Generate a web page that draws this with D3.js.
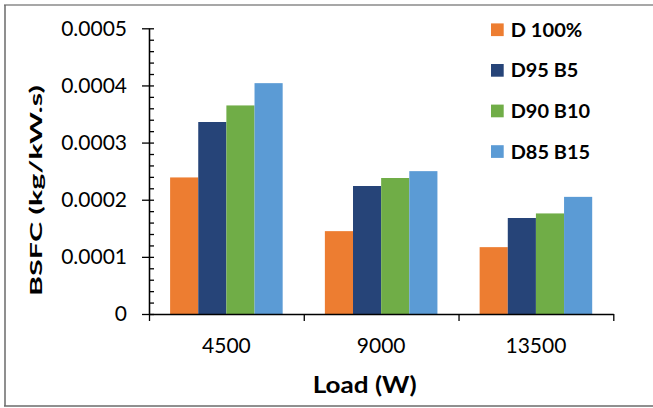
<!DOCTYPE html>
<html>
<head>
<meta charset="utf-8">
<script src="https://cdn.jsdelivr.net/npm/d3@7"></script>
<style>
  html, body { margin: 0; padding: 0; background: #fff; }
  svg { display: block; font-family: Lato, "Open Sans", sans-serif; }
</style>
</head>
<body>
<svg id="chart" width="653" height="408"></svg>
<script>
// Brake specific fuel consumption by load and fuel blend
const loads = ["4500", "9000", "13500"];
const blends = ["D 100%", "D95 B5", "D90 B10", "D85 B15"];
const colors = ["#ED7D31", "#264478", "#70AD47", "#5B9BD5"];
const d100   = [0.000239, 0.000145, 0.000117];
const d95b5  = [0.000336, 0.000224, 0.000168];
const d90b10 = [0.000365, 0.000238, 0.000176];
const d85b15 = [0.000404, 0.000250, 0.000205];
const yTicks = [0, 0.0001, 0.0002, 0.0003, 0.0004, 0.0005];
const yTickLabels = ["0", "0.0001", "0.0002", "0.0003", "0.0004", "0.0005"];

const seriesValues = [d100, d95b5, d90b10, d85b15];
const legendWidths = [71.6, 67.6, 79.3, 79.3];

const svg = d3.select("#chart");

// outer frame
svg.append("line").attr("x1", 4).attr("x2", 653).attr("y1", 5).attr("y2", 5)
  .attr("stroke", "#8a8a8a").attr("stroke-width", 1.5);
svg.append("line").attr("x1", 5).attr("x2", 5).attr("y1", 5).attr("y2", 406)
  .attr("stroke", "#6a6a6a").attr("stroke-width", 1.5);
svg.append("line").attr("x1", 4).attr("x2", 653).attr("y1", 406).attr("y2", 406)
  .attr("stroke", "#6a6a6a").attr("stroke-width", 1.5);

const plotLeft = 149, plotRight = 613.3, plotTop = 28.3, plotBottom = 314;

const x = d3.scaleBand().domain(loads).range([plotLeft, plotRight]).padding(0);
const xInner = d3.scaleBand().domain(blends).range([0, x.bandwidth()])
  .paddingInner(0).paddingOuter(0.75);
const xEdge = d3.scaleLinear().domain([0, loads.length]).range([plotLeft, plotRight]);
const y = d3.scaleLinear().domain([0, 0.0005]).range([plotBottom, plotTop]);

// bars
const groups = svg.append("g").selectAll("g")
  .data(loads)
  .join("g")
  .attr("transform", d => `translate(${x(d)},0)`);

groups.selectAll("rect")
  .data((d, i) => blends.map((b, j) => ({ blend: b, value: seriesValues[j][i], color: colors[j] })))
  .join("rect")
  .attr("x", d => xInner(d.blend))
  .attr("width", xInner.bandwidth())
  .attr("y", d => y(d.value))
  .attr("height", d => y(0) - y(d.value))
  .attr("fill", d => d.color);

// y axis: labels + outward major ticks
const yAxis = svg.append("g")
  .attr("transform", `translate(${plotLeft},0)`)
  .call(d3.axisLeft(y).tickValues(yTicks).tickFormat((d, i) => yTickLabels[i])
    .tickSizeInner(7).tickSizeOuter(0).tickPadding(15));
yAxis.selectAll("text").attr("font-size", 21).attr("fill", "#000")
  .attr("font-family", "Lato, sans-serif");
// inward major + minor ticks
const yMinor = svg.append("g")
  .attr("transform", `translate(${plotLeft},0)`)
  .call(d3.axisRight(y).tickValues(d3.range(0, 26).map(i => i * 0.00002))
    .tickSizeInner(5).tickSizeOuter(0).tickFormat(""));
[yAxis, yMinor].forEach(g => {
  g.selectAll("line").attr("stroke", "#000").attr("stroke-width", 1.3);
  g.select(".domain").attr("stroke", "#000").attr("stroke-width", 1.3);
});

// x axis: baseline and category boundary ticks
const xTicks = svg.append("g")
  .attr("transform", `translate(0,${plotBottom})`)
  .call(d3.axisBottom(xEdge).tickValues(d3.range(0, loads.length + 1))
    .tickFormat("").tickSizeInner(7).tickSizeOuter(0));
xTicks.selectAll("line").attr("stroke", "#000").attr("stroke-width", 1.3);
xTicks.select(".domain").attr("stroke", "#000").attr("stroke-width", 1.3);

const xLabels = svg.append("g")
  .attr("transform", `translate(0,${plotBottom})`)
  .call(d3.axisBottom(x).tickSize(0).tickPadding(0));
xLabels.select(".domain").remove();
xLabels.selectAll("text")
  .attr("dy", null).attr("y", 38.7)
  .attr("font-size", 21).attr("fill", "#000")
  .attr("font-family", "Lato, sans-serif");

// axis titles
svg.append("text")
  .attr("transform", "translate(42,190.5) rotate(-90)")
  .attr("text-anchor", "middle")
  .attr("font-weight", "bold").attr("font-size", 17.6)
  .attr("textLength", 211).attr("lengthAdjust", "spacingAndGlyphs")
  .text("BSFC (kg/kW.s)");

svg.append("text")
  .attr("x", 364.7).attr("y", 393.3)
  .attr("text-anchor", "middle")
  .attr("font-weight", "bold").attr("font-size", 22.2)
  .attr("textLength", 104).attr("lengthAdjust", "spacingAndGlyphs")
  .text("Load (W)");

// legend
const legend = svg.append("g").selectAll("g")
  .data(blends)
  .join("g")
  .attr("transform", (d, i) => `translate(491,${29.7 + i * 40.6})`);
legend.append("rect")
  .attr("x", 0).attr("y", -6.3).attr("width", 12.7).attr("height", 12.7)
  .attr("fill", (d, i) => colors[i]);
legend.append("text")
  .attr("x", 19.7).attr("y", 7)
  .attr("font-weight", "bold").attr("font-size", 19.5)
  .attr("textLength", (d, i) => legendWidths[i]).attr("lengthAdjust", "spacingAndGlyphs")
  .text(d => d);
</script>
</body>
</html>
